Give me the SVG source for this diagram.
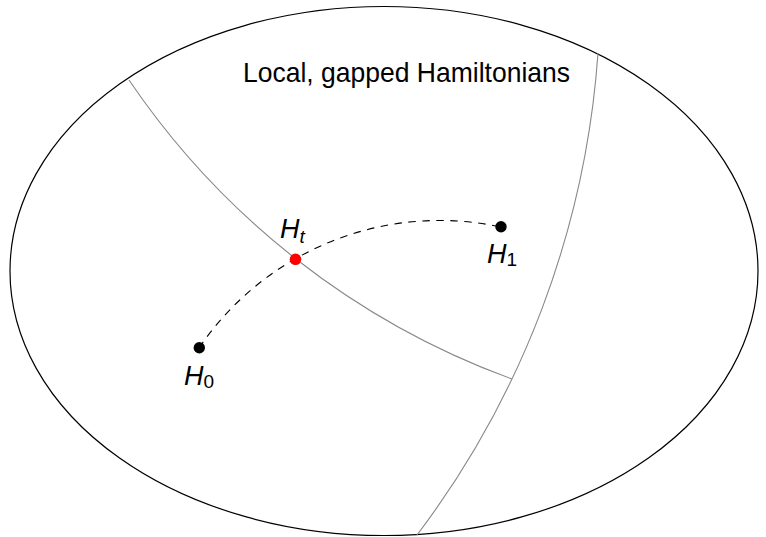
<svg xmlns="http://www.w3.org/2000/svg" width="766" height="537" viewBox="0 0 766 537">
<style>
.outline{fill:none;stroke:#000;stroke-width:1.2}
.wall{fill:none;stroke:#888;stroke-width:1.1}
.path{fill:none;stroke:#000;stroke-width:1.1;stroke-dasharray:7.5 6.5}
.dot{fill:#000}
.red{fill:#ff0000}
.lbl{font-family:"Liberation Sans",Arial,sans-serif;font-style:italic;font-size:27px;fill:#000}
.sub{font-size:19px}
.num{font-style:normal}
.title{font-family:"Liberation Sans",Arial,sans-serif;font-size:28px;fill:#000}
</style>
<rect width="766" height="537" fill="#fff"/>
<g id="region">
<ellipse class="outline" cx="384" cy="271" rx="374" ry="264.5"/>
<text class="title" x="243" y="82" textLength="327" lengthAdjust="spacingAndGlyphs">Local, gapped Hamiltonians</text>
</g>
<g id="walls">
<path class="wall" d="M129,80 A789.2,789.2 0 0 0 512,379"/>
<path class="wall" d="M598,53 A903,903 0 0 1 417,535"/>
</g>
<g id="connectors">
<path class="path" d="M199,348 A290.8,290.8 0 0 1 501,227"/>
</g>
<g id="H0">
<circle class="dot" cx="199.3" cy="347.7" r="5.7"/>
<text class="lbl" x="184" y="385">H<tspan class="sub num" dy="3">0</tspan></text>
</g>
<g id="H1">
<circle class="dot" cx="501" cy="226.7" r="5.7"/>
<text class="lbl" x="487" y="263">H<tspan class="sub num" dy="3">1</tspan></text>
</g>
<g id="Ht">
<circle class="red" cx="295.5" cy="259.3" r="5.8"/>
<text class="lbl" x="280" y="238">H<tspan class="sub" dy="5">t</tspan></text>
</g>
</svg>
